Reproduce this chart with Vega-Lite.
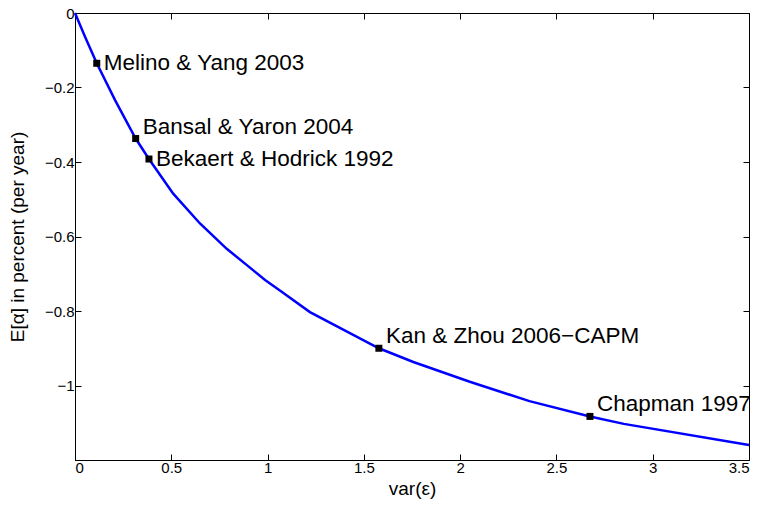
{
  "$schema": "https://vega.github.io/schema/vega-lite/v6.json",
  "autosize": "none",
  "width": 674,
  "height": 447,
  "padding": {"left": 75, "top": 13, "right": 15, "bottom": 52},
  "background": "white",
  "config": {
    "font": "Liberation Sans",
    "view": {"stroke": "black", "strokeWidth": 1},
    "axis": {
      "grid": false,
      "domainColor": "black",
      "domainWidth": 1,
      "tickColor": "black",
      "tickSize": -6,
      "tickWidth": 1,
      "labelFont": "Liberation Sans",
      "labelFontSize": 15,
      "labelColor": "black",
      "titleFont": "Liberation Sans",
      "titleFontSize": 19,
      "titleFontWeight": "normal",
      "titleColor": "black"
    }
  },
  "datasets": {
    "curve": [
      {"x": 0, "y": 0},
      {"x": 0.052, "y": -0.064},
      {"x": 0.113, "y": -0.135},
      {"x": 0.208, "y": -0.234},
      {"x": 0.315, "y": -0.337},
      {"x": 0.384, "y": -0.392},
      {"x": 0.51, "y": -0.485},
      {"x": 0.649, "y": -0.565},
      {"x": 0.788, "y": -0.633},
      {"x": 0.926, "y": -0.691},
      {"x": 0.987, "y": -0.717},
      {"x": 1.064, "y": -0.745},
      {"x": 1.22, "y": -0.803},
      {"x": 1.578, "y": -0.9},
      {"x": 1.757, "y": -0.937},
      {"x": 2.05, "y": -0.99},
      {"x": 2.36, "y": -1.042},
      {"x": 2.674, "y": -1.083},
      {"x": 2.85, "y": -1.103},
      {"x": 3.5, "y": -1.16}
    ],
    "studies": [
      {"x": 0.113, "y": -0.135, "label": "Melino & Yang 2003"},
      {"x": 0.315, "y": -0.337, "label": "Bansal & Yaron 2004"},
      {"x": 0.384, "y": -0.392, "label": "Bekaert & Hodrick 1992"},
      {"x": 1.578, "y": -0.9, "label": "Kan & Zhou 2006−CAPM"},
      {"x": 2.674, "y": -1.083, "label": "Chapman 1997"}
    ]
  },
  "layer": [
    {
      "data": {"name": "curve"},
      "mark": {"type": "line", "color": "#0000ff", "strokeWidth": 2.5},
      "encoding": {
        "x": {
          "field": "x", "type": "quantitative",
          "scale": {"domain": [0, 3.5], "nice": false, "zero": false},
          "axis": {"orient": "bottom", "title": "var(ε)", "values": [0, 0.5, 1, 1.5, 2, 2.5, 3, 3.5], "format": "~g", "labelPadding": 6, "titlePadding": 4}
        },
        "y": {
          "field": "y", "type": "quantitative",
          "scale": {"domain": [-1.2, 0], "nice": false, "zero": false},
          "axis": {"orient": "left", "title": "E[α] in percent (per year)", "values": [0, -0.2, -0.4, -0.6, -0.8, -1], "format": "~g", "labelPadding": 7, "titlePadding": 17}
        }
      }
    },
    {
      "data": {"name": "studies"},
      "mark": {"type": "square", "color": "black", "size": 49, "opacity": 1},
      "encoding": {
        "x": {
          "field": "x", "type": "quantitative",
          "axis": {"orient": "top", "labels": false, "title": null, "values": [0, 0.5, 1, 1.5, 2, 2.5, 3, 3.5]}
        },
        "y": {
          "field": "y", "type": "quantitative",
          "axis": {"orient": "right", "labels": false, "title": null, "values": [0, -0.2, -0.4, -0.6, -0.8, -1]}
        }
      }
    },
    {
      "data": {"name": "studies"},
      "transform": [{"filter": {"field": "label", "oneOf": ["Melino & Yang 2003", "Bekaert & Hodrick 1992"]}}],
      "mark": {"type": "text", "align": "left", "baseline": "middle", "dx": 7, "dy": 0, "fontSize": 22.5, "color": "black", "font": "Liberation Sans"},
      "encoding": {
        "x": {"field": "x", "type": "quantitative", "axis": null},
        "y": {"field": "y", "type": "quantitative", "axis": null},
        "text": {"field": "label"}
      }
    },
    {
      "data": {"name": "studies"},
      "transform": [{"filter": {"field": "label", "oneOf": ["Bansal & Yaron 2004", "Kan & Zhou 2006−CAPM", "Chapman 1997"]}}],
      "mark": {"type": "text", "align": "left", "baseline": "middle", "dx": 7, "dy": -12, "fontSize": 22.5, "color": "black", "font": "Liberation Sans"},
      "encoding": {
        "x": {"field": "x", "type": "quantitative", "axis": null},
        "y": {"field": "y", "type": "quantitative", "axis": null},
        "text": {"field": "label"}
      }
    }
  ],
  "resolve": {"axis": {"x": "independent", "y": "independent"}}
}
